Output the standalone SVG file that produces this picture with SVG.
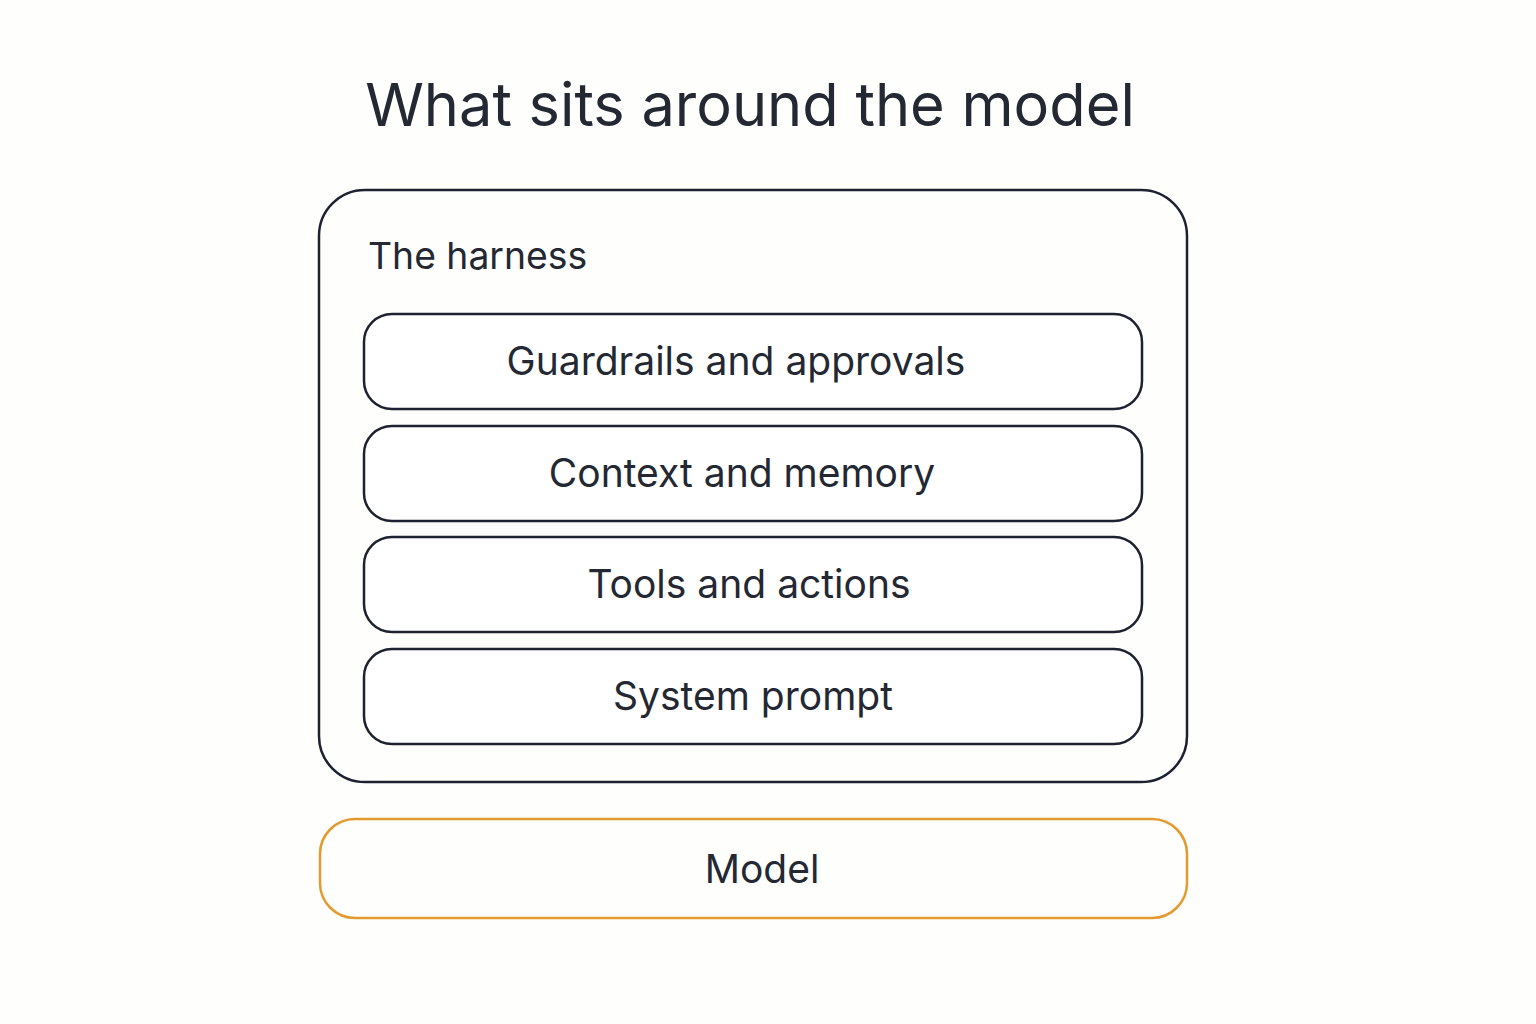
<svg xmlns="http://www.w3.org/2000/svg" width="1536" height="1024" viewBox="0 0 1536 1024">
<style>
text{font-family:Inter,"Noto Sans",sans-serif;fill:#232833}
.title{font-size:59.5px;text-anchor:middle}
.lbl{font-size:39px;text-anchor:middle}
.layer{fill:#fff;stroke:#1e2230;stroke-width:2.5}
</style>
<rect width="1536" height="1024" fill="#fefefd"/>
<text class="title" x="750" y="126">What sits around the model</text>
<g id="harness">
<rect x="319" y="190" width="868" height="592" rx="46" fill="#fefefd" stroke="#1e2230" stroke-width="2.5"/>
<text x="368" y="269" style="font-size:37.3px">The harness</text>
</g>
<g id="guardrails">
<rect class="layer" x="364" y="314" width="778" height="95" rx="28"/>
<text class="lbl" x="736" y="375">Guardrails and approvals</text>
</g>
<g id="context">
<rect class="layer" x="364" y="426" width="778" height="95" rx="28"/>
<text class="lbl" x="742" y="487">Context and memory</text>
</g>
<g id="tools">
<rect class="layer" x="364" y="537" width="778" height="95" rx="28"/>
<text class="lbl" x="749" y="598">Tools and actions</text>
</g>
<g id="system">
<rect class="layer" x="364" y="649" width="778" height="95" rx="28"/>
<text class="lbl" x="753" y="710">System prompt</text>
</g>
<g id="model">
<rect x="320" y="819" width="867" height="99" rx="35" fill="#fefefd" stroke="#e39a2e" stroke-width="2.5"/>
<text class="lbl" x="762" y="883">Model</text>
</g>
<g id="connectors"></g>
</svg>
